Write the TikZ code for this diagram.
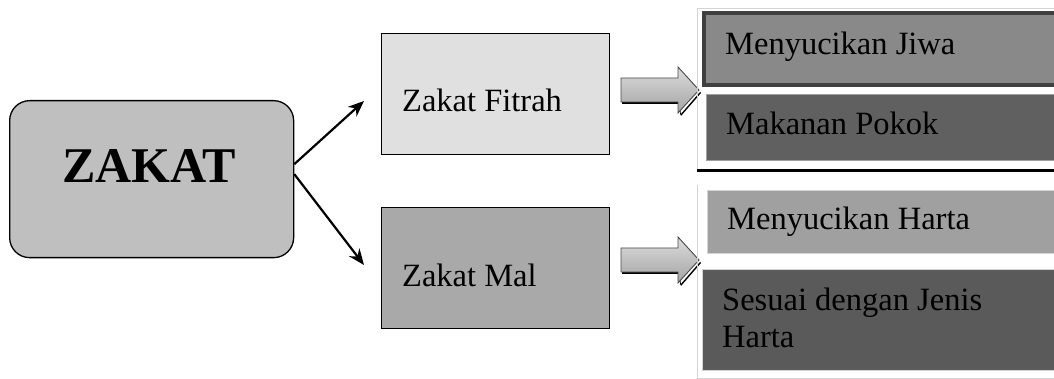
\documentclass[tikz,border=0pt]{standalone}
\usepackage{fontspec}
\setmainfont{Liberation Serif}
\usetikzlibrary{arrows.meta}
\definecolor{zakatfill}{HTML}{BFBFBF}
\definecolor{fitrahfill}{HTML}{E0E0E0}
\definecolor{malfill}{HTML}{A9A9A9}
\definecolor{jiwafill}{HTML}{898989}
\definecolor{jiwaborder}{HTML}{404040}
\definecolor{pokokfill}{HTML}{606060}
\definecolor{hartafill}{HTML}{A0A0A0}
\definecolor{jenisfill}{HTML}{5A5A5A}
\definecolor{thinline}{HTML}{D4D4D4}
\definecolor{arrowtop}{HTML}{DCDCDC}
\definecolor{arrowbot}{HTML}{A4A4A4}
\definecolor{arrowedge}{HTML}{4A4A4A}
\tikzset{
  x=1pt, y=-1pt,
  box/.style={draw=black, line width=1.3pt, anchor=north west, inner sep=0pt},
  bar/.style={anchor=north west, inner sep=0pt, draw=thinline, line width=0.8pt},
  txt/.style={anchor=base west, inner sep=0pt, font=\fontsize{32.5}{37}\selectfont},
  conn/.style={line width=2.2pt, -{Stealth[length=16pt,width=13pt]}},
  blockarrow/.style={draw=arrowedge, line width=0.9pt, top color=arrowtop, bottom color=arrowbot},
  blockshadow/.style={fill=black},
  frame/.style={draw=thinline, line width=0.8pt}
}
\begin{document}
\begin{tikzpicture}
\useasboundingbox (0,0) rectangle (1054,379);
% main node
\node[box, rounded corners=20pt, fill=zakatfill, minimum width=284pt, minimum height=157pt] (zakat) at (9,100) {};
\node[anchor=base west, inner sep=0pt, font=\fontsize{50}{55}\selectfont\bfseries] (zakattxt) at (62,183) {ZAKAT};
% second level boxes
\node[box, fill=fitrahfill, minimum width=228pt, minimum height=121pt] (fitrah) at (381,33) {};
\node[txt] (fitrahtxt) at (402,112) {Zakat Fitrah};
\node[box, fill=malfill, minimum width=228pt, minimum height=121pt] (mal) at (381,207) {};
\node[txt] (maltxt) at (402,287) {Zakat Mal};
% connectors
\coordinate (tipA) at (364,101);
\coordinate (tipB) at (364,265);
\draw[conn] ([yshift=15pt]zakat.east) -- (tipA);
\draw[conn] ([yshift=5pt]zakat.east) -- (tipB);
% block arrows
\foreach \cy/\nm in {90/arrA, 260/arrB}{
  \path[blockshadow] (622,\cy-10) -- (680,\cy-10) -- (680,\cy+14) -- (622,\cy+14) -- cycle;
  \path[blockshadow] (680,\cy+14) -- (680,\cy+25) -- (700,\cy+2) -- (701,\cy+3) -- (681,\cy+26) -- cycle;
  \path[blockarrow] (621,\cy-12) -- (678,\cy-12) -- (678,\cy-23) -- (699,\cy) -- (678,\cy+23) -- (678,\cy+12) -- (621,\cy+12) -- cycle;
}
% right column frames
\draw[frame] (1060,8) -- (697,8) -- (697,171);
\draw[frame] (697,185) -- (697,378) -- (1060,378);
\draw[line width=3pt] (697,171) -- (1060,171);
% right column boxes
\node[anchor=north west, inner sep=0pt, draw=jiwaborder, line width=4pt, fill=jiwafill, minimum width=360pt, minimum height=72pt] (jiwa) at (702,11) {};
\node[txt] (jiwatxt) at (725,55) {Menyucikan Jiwa};
\node[bar, draw=hartafill, fill=pokokfill, minimum width=360pt, minimum height=66pt] (pokok) at (706,94) {};
\node[txt] (pokoktxt) at (726,135) {Makanan Pokok};
\node[bar, fill=hartafill, minimum width=360pt, minimum height=63pt] (harta) at (707,190) {};
\node[txt] (hartatxt) at (727,230) {Menyucikan Harta};
\node[bar, fill=jenisfill, minimum width=360pt, minimum height=101pt] (jenis) at (702,269) {};
\node[txt, align=left] (jenistxt) at (722,347) {Sesuai dengan Jenis\\Harta};
\end{tikzpicture}
\end{document}
